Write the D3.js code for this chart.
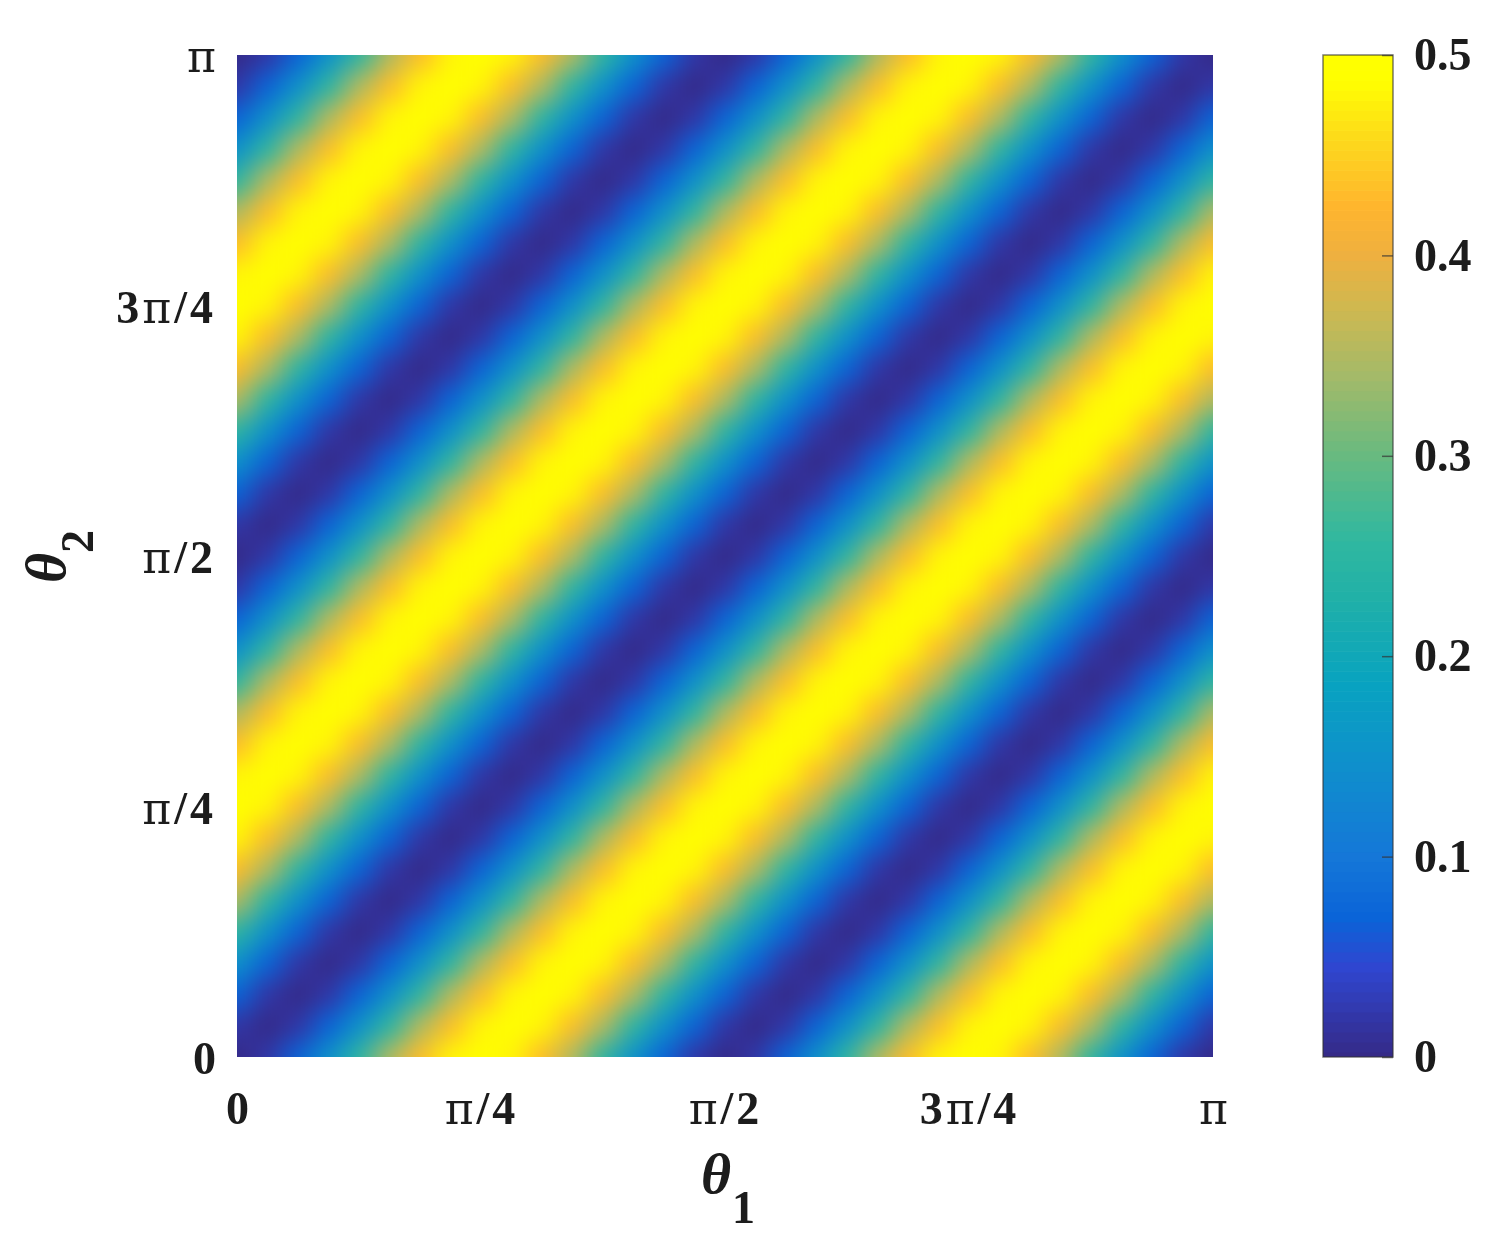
<!DOCTYPE html>
<html><head><meta charset="utf-8">
<script src="https://cdn.jsdelivr.net/npm/d3@7"></script>
<style>
html,body{margin:0;padding:0;background:#fff;overflow:hidden}
text{font-family:"Liberation Serif","Times New Roman",serif;fill:#1a1a1a}
.tick text{font-weight:700;font-size:46px}
</style></head><body>
<svg id="chart" width="1506" height="1240"></svg>
<script>
// values, in hundredths; top row is theta2 = pi, bottom row is theta2 = 0
const heatValues = [
[0,2,7,15,25,35,43,48,50,48,43,35,25,15,7,2,0,2,7,15,25,35,43,48,50,48,43,35,25,15,7,2,0],
[2,7,15,25,35,43,48,50,48,43,35,25,15,7,2,0,2,7,15,25,35,43,48,50,48,43,35,25,15,7,2,0,2],
[7,15,25,35,43,48,50,48,43,35,25,15,7,2,0,2,7,15,25,35,43,48,50,48,43,35,25,15,7,2,0,2,7],
[15,25,35,43,48,50,48,43,35,25,15,7,2,0,2,7,15,25,35,43,48,50,48,43,35,25,15,7,2,0,2,7,15],
[25,35,43,48,50,48,43,35,25,15,7,2,0,2,7,15,25,35,43,48,50,48,43,35,25,15,7,2,0,2,7,15,25],
[35,43,48,50,48,43,35,25,15,7,2,0,2,7,15,25,35,43,48,50,48,43,35,25,15,7,2,0,2,7,15,25,35],
[43,48,50,48,43,35,25,15,7,2,0,2,7,15,25,35,43,48,50,48,43,35,25,15,7,2,0,2,7,15,25,35,43],
[48,50,48,43,35,25,15,7,2,0,2,7,15,25,35,43,48,50,48,43,35,25,15,7,2,0,2,7,15,25,35,43,48],
[50,48,43,35,25,15,7,2,0,2,7,15,25,35,43,48,50,48,43,35,25,15,7,2,0,2,7,15,25,35,43,48,50],
[48,43,35,25,15,7,2,0,2,7,15,25,35,43,48,50,48,43,35,25,15,7,2,0,2,7,15,25,35,43,48,50,48],
[43,35,25,15,7,2,0,2,7,15,25,35,43,48,50,48,43,35,25,15,7,2,0,2,7,15,25,35,43,48,50,48,43],
[35,25,15,7,2,0,2,7,15,25,35,43,48,50,48,43,35,25,15,7,2,0,2,7,15,25,35,43,48,50,48,43,35],
[25,15,7,2,0,2,7,15,25,35,43,48,50,48,43,35,25,15,7,2,0,2,7,15,25,35,43,48,50,48,43,35,25],
[15,7,2,0,2,7,15,25,35,43,48,50,48,43,35,25,15,7,2,0,2,7,15,25,35,43,48,50,48,43,35,25,15],
[7,2,0,2,7,15,25,35,43,48,50,48,43,35,25,15,7,2,0,2,7,15,25,35,43,48,50,48,43,35,25,15,7],
[2,0,2,7,15,25,35,43,48,50,48,43,35,25,15,7,2,0,2,7,15,25,35,43,48,50,48,43,35,25,15,7,2],
[0,2,7,15,25,35,43,48,50,48,43,35,25,15,7,2,0,2,7,15,25,35,43,48,50,48,43,35,25,15,7,2,0],
[2,7,15,25,35,43,48,50,48,43,35,25,15,7,2,0,2,7,15,25,35,43,48,50,48,43,35,25,15,7,2,0,2],
[7,15,25,35,43,48,50,48,43,35,25,15,7,2,0,2,7,15,25,35,43,48,50,48,43,35,25,15,7,2,0,2,7],
[15,25,35,43,48,50,48,43,35,25,15,7,2,0,2,7,15,25,35,43,48,50,48,43,35,25,15,7,2,0,2,7,15],
[25,35,43,48,50,48,43,35,25,15,7,2,0,2,7,15,25,35,43,48,50,48,43,35,25,15,7,2,0,2,7,15,25],
[35,43,48,50,48,43,35,25,15,7,2,0,2,7,15,25,35,43,48,50,48,43,35,25,15,7,2,0,2,7,15,25,35],
[43,48,50,48,43,35,25,15,7,2,0,2,7,15,25,35,43,48,50,48,43,35,25,15,7,2,0,2,7,15,25,35,43],
[48,50,48,43,35,25,15,7,2,0,2,7,15,25,35,43,48,50,48,43,35,25,15,7,2,0,2,7,15,25,35,43,48],
[50,48,43,35,25,15,7,2,0,2,7,15,25,35,43,48,50,48,43,35,25,15,7,2,0,2,7,15,25,35,43,48,50],
[48,43,35,25,15,7,2,0,2,7,15,25,35,43,48,50,48,43,35,25,15,7,2,0,2,7,15,25,35,43,48,50,48],
[43,35,25,15,7,2,0,2,7,15,25,35,43,48,50,48,43,35,25,15,7,2,0,2,7,15,25,35,43,48,50,48,43],
[35,25,15,7,2,0,2,7,15,25,35,43,48,50,48,43,35,25,15,7,2,0,2,7,15,25,35,43,48,50,48,43,35],
[25,15,7,2,0,2,7,15,25,35,43,48,50,48,43,35,25,15,7,2,0,2,7,15,25,35,43,48,50,48,43,35,25],
[15,7,2,0,2,7,15,25,35,43,48,50,48,43,35,25,15,7,2,0,2,7,15,25,35,43,48,50,48,43,35,25,15],
[7,2,0,2,7,15,25,35,43,48,50,48,43,35,25,15,7,2,0,2,7,15,25,35,43,48,50,48,43,35,25,15,7],
[2,0,2,7,15,25,35,43,48,50,48,43,35,25,15,7,2,0,2,7,15,25,35,43,48,50,48,43,35,25,15,7,2],
[0,2,7,15,25,35,43,48,50,48,43,35,25,15,7,2,0,2,7,15,25,35,43,48,50,48,43,35,25,15,7,2,0]
];
const angleTicks = [0, 0.25, 0.5, 0.75, 1];            // in units of pi
const angleTickLabels = ["0", "π/4", "π/2", "3π/4", "π"];
const colorTicks = [0, 0.1, 0.2, 0.3, 0.4, 0.5];
const colorTickLabels = ["0", "0.1", "0.2", "0.3", "0.4", "0.5"];
const colorValues = [0, .045, .07, .1, .145, .187, .228, .258, .3, .341, .374, .4, .424, .457, .487, .5];
const colorStops = ["#352a87","#2f46d0","#0a64d8","#1577d8","#0f8fcc","#08a3c0","#20b0a8","#30b8a0",
                    "#68ba80","#a5ba68","#cfb850","#eeb040","#ffb52e","#fdd81c","#ffff00","#ffff00"];

const svg = d3.select("#chart");
const left = 237, right = 1213, top_ = 55, bottom = 1057;
const barLeft = 1323, barRight = 1393;
const nCols = heatValues[0].length, nRows = heatValues.length;

const x = d3.scaleLinear().domain([0, 1]).range([left, right]);
const y = d3.scaleLinear().domain([0, 1]).range([bottom, top_]);
const vy = d3.scaleLinear().domain([0, 0.5]).range([bottom, top_]);
const color = d3.scaleLinear().domain(colorValues).range(colorStops).interpolate(d3.interpolateRgb);

const defs = svg.append("defs");
defs.append("clipPath").attr("id", "plotClip").append("rect")
  .attr("x", left).attr("y", top_).attr("width", right - left).attr("height", bottom - top_);
defs.append("clipPath").attr("id", "barClip").append("rect")
  .attr("x", barLeft).attr("y", top_).attr("width", barRight - barLeft).attr("height", bottom - top_);
defs.append("filter").attr("id", "smooth").attr("filterUnits", "userSpaceOnUse")
  .attr("x", -200).attr("y", -200).attr("width", 2000).attr("height", 2000)
  .attr("color-interpolation-filters", "sRGB")
  .append("feGaussianBlur").attr("stdDeviation", 12);
defs.append("filter").attr("id", "soft").attr("filterUnits", "userSpaceOnUse")
  .attr("x", -1600).attr("y", -1600).attr("width", 3200).attr("height", 3200)
  .append("feGaussianBlur").attr("stdDeviation", 0.7);

// heatmap cells
const cells = heatValues.flatMap((row, r) => row.map((v, c) => ({
  c, r, t1: c / (nCols - 1), t2: 1 - r / (nRows - 1), v: v / 100
})));
const halfW = (x(1) - x(0)) / (nCols - 1) / 2;
const halfH = (y(0) - y(1)) / (nRows - 1) / 2;
const bleed = 60; // edge cells run past the clip so the smoothing does not fade at the frame
svg.append("g").attr("clip-path", "url(#plotClip)")
  .append("g").attr("filter", "url(#smooth)")
  .selectAll("rect").data(cells).join("rect")
  .attr("x", d => x(d.t1) - halfW - (d.c === 0 ? bleed : 0))
  .attr("y", d => y(d.t2) - halfH - (d.r === 0 ? bleed : 0))
  .attr("width", d => 2 * halfW + 0.6 + ((d.c === 0 || d.c === nCols - 1) ? bleed : 0))
  .attr("height", d => 2 * halfH + 0.6 + ((d.r === 0 || d.r === nRows - 1) ? bleed : 0))
  .attr("fill", d => color(d.v));

// π is set in a wider serif face, as in the reference
function stylePi(sel) {
  sel.each(function () {
    const t = d3.select(this), s = t.text();
    t.text(null).attr("letter-spacing", s.length > 1 && s.includes("π") ? 3 : null);
    s.split(/(π)/).filter(p => p).forEach(p => {
      const span = t.append("tspan").text(p);
      if (p === "π") span.attr("font-family", "'DejaVu Serif'").attr("font-size", 44).attr("font-weight", 400);
    });
  });
}

// axes
const xAxis = d3.axisBottom(x).tickValues(angleTicks).tickSize(0)
  .tickFormat((d, i) => angleTickLabels[i]);
const gx = svg.append("g").attr("transform", `translate(0,${bottom})`).attr("filter", "url(#soft)").call(xAxis);
gx.select(".domain").remove();
gx.selectAll("text").attr("y", 0).attr("dy", "1.46em").call(stylePi);

const yAxis = d3.axisLeft(y).tickValues(angleTicks).tickSize(0)
  .tickFormat((d, i) => angleTickLabels[i]);
const gy = svg.append("g").attr("transform", `translate(${left},0)`).attr("filter", "url(#soft)").call(yAxis);
gy.select(".domain").remove();
gy.selectAll("text").attr("x", -21).attr("dy", "0.36em").call(stylePi);

// axis titles
const xTitle = svg.append("text").attr("transform", "translate(701,1193)").attr("filter", "url(#soft)");
xTitle.append("tspan").text("θ").attr("font-style", "italic").attr("font-weight", 700).attr("font-size", 58);
xTitle.append("tspan").text("1").attr("font-weight", 700).attr("font-size", 46).attr("dy", 30).attr("dx", 1);
const yTitle = svg.append("text").attr("transform", "translate(65,583) rotate(-90)").attr("filter", "url(#soft)");
yTitle.append("tspan").text("θ").attr("font-style", "italic").attr("font-weight", 700).attr("font-size", 58);
yTitle.append("tspan").text("2").attr("font-weight", 700).attr("font-size", 46).attr("dy", 28);

// colour bar
const levels = d3.range(0, 0.5001, 0.005);
svg.append("g").attr("clip-path", "url(#barClip)").selectAll("rect").data(levels).join("rect")
  .attr("x", barLeft).attr("width", barRight - barLeft)
  .attr("y", d => vy(d) - (vy(0) - vy(0.005)) / 2)
  .attr("height", (vy(0) - vy(0.005)) + 0.6)
  .attr("fill", d => color(d));
svg.append("rect").attr("x", barLeft).attr("y", top_).attr("width", barRight - barLeft).attr("height", bottom - top_)
  .attr("fill", "none").attr("stroke", "#333").attr("stroke-opacity", 0.65).attr("stroke-width", 1.5);

const cAxis = d3.axisRight(vy).tickValues(colorTicks).tickSize(0)
  .tickFormat((d, i) => colorTickLabels[i]);
const gc = svg.append("g").attr("transform", `translate(${barRight},0)`).attr("filter", "url(#soft)").call(cAxis);
gc.select(".domain").remove();
gc.selectAll("text").attr("x", 21).attr("dy", "0.32em");
gc.selectAll(".tick line").attr("x2", -11).attr("stroke", "#333").attr("stroke-opacity", 0.7).attr("stroke-width", 1.5);
</script>
</body></html>
